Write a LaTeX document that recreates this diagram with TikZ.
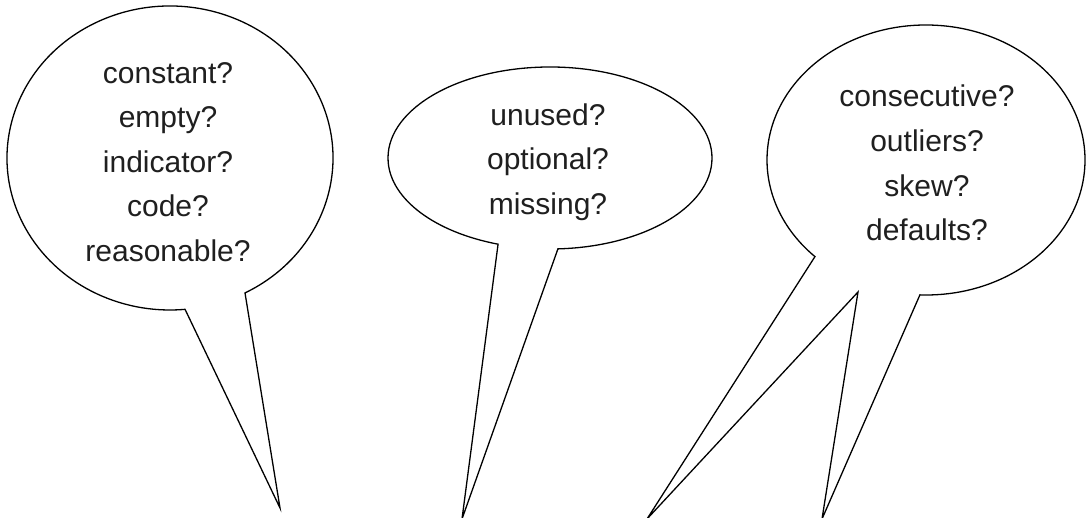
\documentclass[tikz,border=0pt]{standalone}
\usepackage{fontspec}
\setmainfont{Liberation Sans}
\begin{document}
\begin{tikzpicture}[x=1pt,y=1pt,
  bubble/.style={draw=black, line width=1.3pt, line join=miter, fill=white},
  bubbletext/.style={align=center, text=black!88, font=\fontsize{30}{44.6}\selectfont, inner sep=0pt}]
\useasboundingbox (0,0) rectangle (1086,518);
\clip (0,0) rectangle (1086,518);
% tail tips
\coordinate (tipA) at (280,10);
\coordinate (tipB) at (462,-1);
\coordinate (tipC) at (647,-1);
\coordinate (tipM) at (858,226);
\coordinate (tipD) at (822,-1);
% bubble 1
\draw[bubble] ({170+163*cos(297.4)},{360+152*sin(297.4)})
  arc[start angle=297.4, end angle=635.3, x radius=163, y radius=152]
  -- (tipA) -- cycle;
% bubble 2
\draw[bubble] ({550+162*cos(272.8)},{360+91*sin(272.8)})
  arc[start angle=272.8, end angle=611.3, x radius=162, y radius=91]
  -- (tipB) -- cycle;
% bubble 3
\draw[bubble] ({926+159*cos(267.8)},{358+135*sin(267.8)})
  arc[start angle=267.8, end angle=585.7, x radius=159, y radius=135]
  -- (tipC) -- (tipM) -- (tipD) -- cycle;
% texts
\node[bubbletext] (t1) at (168,356) {constant?\\empty?\\indicator?\\code?\\reasonable?};
\node[bubbletext] (t2) at (548,356) {unused?\\optional?\\missing?};
\node[bubbletext] (t3) at (927,355) {consecutive?\\outliers?\\skew?\\defaults?};
\end{tikzpicture}
\end{document}
